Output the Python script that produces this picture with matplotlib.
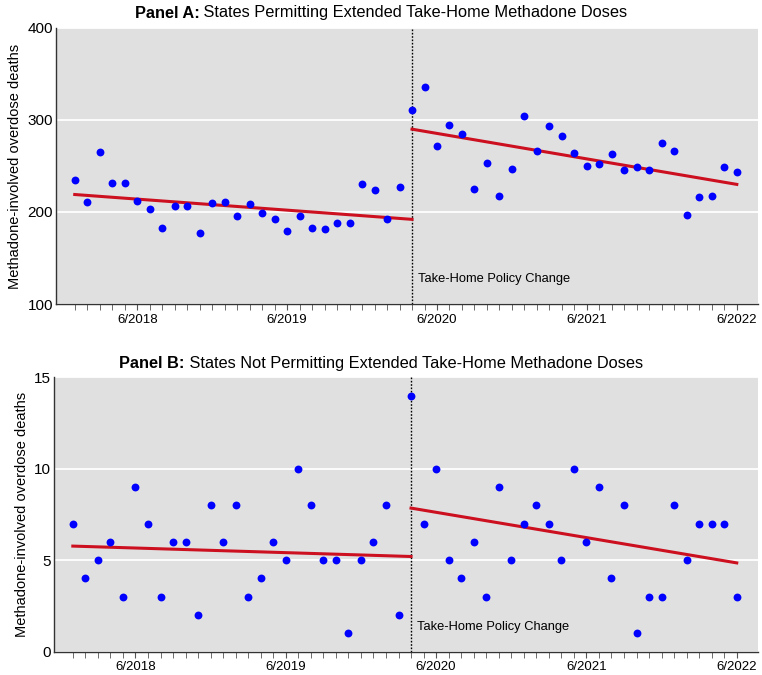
import matplotlib.pyplot as plt
import numpy as np

plt.rcParams["font.family"] = ["Liberation Sans", "DejaVu Sans"]

# months since 1/2018 (0 = Jan 2018 ... 53 = Jun 2022)
months = np.arange(54)
policy_month = 27  # 4/2020
tick_labels = ["6/2018", "6/2019", "6/2020", "6/2021", "6/2022"]
tick_months = [5, 17, 29, 41, 53]

# Panel A: states permitting extended take-home doses
deaths_a = [235, 211, 265, 231, 232, 212, 203, 183, 207, 207,
            177, 210, 211, 196, 209, 199, 192, 179, 196, 183,
            181, 188, 188, 230, 224, 192, 227,
            311, 336, 272, 294, 285, 225, 253, 217, 247, 304,
            266, 293, 283, 264, 250, 252, 263, 246, 249, 246,
            275, 266, 197, 216, 217, 249, 244]

# Panel B: states not permitting extended take-home doses
deaths_b = [7, 4, 5, 6, 3, 9, 7, 3, 6, 6,
            2, 8, 6, 8, 3, 4, 6, 5, 10, 8,
            5, 5, 1, 5, 6, 8, 2,
            14, 7, 10, 5, 4, 6, 3, 9, 5, 7,
            8, 7, 5, 10, 6, 9, 4, 8, 1, 3,
            3, 8, 5, 7, 7, 7, 3]

# fitted trend segments (start, end)
trend_a_pre = [219, 192]
trend_a_post = [290, 230]
trend_b_pre = [5.77, 5.2]
trend_b_post = [7.85, 4.85]

BG = "#E0E0E0"
BLUE = "#0000FF"
RED = "#CC1020"


def panel(ax, y, pre, post, ylim, yticks):
    ax.set_facecolor(BG)
    ax.set_xlim(-1.5, 54.7)
    ax.set_ylim(*ylim)
    ax.set_yticks(yticks)
    ax.grid(axis="y", color="white", lw=1.3)
    ax.set_axisbelow(True)
    for s in ("top", "right"):
        ax.spines[s].set_visible(False)
    for s in ("left", "bottom"):
        ax.spines[s].set_color("#333333")
        ax.spines[s].set_linewidth(1.0)
    ax.set_xticks(months, minor=True)
    ax.set_xticks(tick_months)
    ax.set_xticklabels(tick_labels)
    ax.tick_params(axis="x", which="both", length=4, color="#555555",
                   labelsize=9.5, pad=3)
    ax.tick_params(axis="y", length=0, labelsize=11, pad=2)

    ax.axvline(policy_month, color="black", ls=(0, (1.2, 1.2)), lw=1.0,
               zorder=2)
    ax.plot([0, policy_month], pre, color=RED, lw=2.2, zorder=3)
    ax.plot([policy_month, months[-1]], post, color=RED, lw=2.2, zorder=3)
    ax.scatter(months, y, s=32, color=BLUE, zorder=4, linewidths=0)

    ax.text(policy_month + 0.45, ylim[0] + (ylim[1] - ylim[0]) * 0.09,
            "Take-Home Policy Change", fontsize=9.3, ha="left", va="center")
    ax.set_ylabel("Methadone-involved overdose deaths", fontsize=10.5,
                  labelpad=4)


def title(fig, ypix, bold, rest, size=11.8):
    # bold lead + regular text, centred on the figure as one line
    y = 1 - ypix / fig.get_figheight() / fig.dpi
    t1 = fig.text(0, y, bold, fontsize=size, weight="bold",
                  ha="left", va="baseline")
    t2 = fig.text(0, y, " " + rest, fontsize=size, ha="left", va="baseline")
    r = fig.canvas.get_renderer()
    w1 = t1.get_window_extent(r).width
    w2 = t2.get_window_extent(r).width
    W = fig.get_figwidth() * fig.dpi
    x0 = (W - w1 - w2) / 2 / W
    t1.set_x(x0)
    t2.set_x(x0 + w1 / W)


fig = plt.figure(figsize=(7.62, 6.75), dpi=100)
ax_a = fig.add_axes([0.0735, 0.5496, 0.9213, 0.409])
ax_b = fig.add_axes([0.0709, 0.0348, 0.9239, 0.406])

panel(ax_a, deaths_a, trend_a_pre, trend_a_post, (100, 400),
      [100, 200, 300, 400])
panel(ax_b, deaths_b, trend_b_pre, trend_b_post, (0, 15),
      [0, 5, 10, 15])

title(fig, 17.5, "Panel A:",
      "States Permitting Extended Take-Home Methadone Doses")
title(fig, 368, "Panel B:",
      "States Not Permitting Extended Take-Home Methadone Doses")

fig.savefig("out.png", dpi=100, facecolor="white")
